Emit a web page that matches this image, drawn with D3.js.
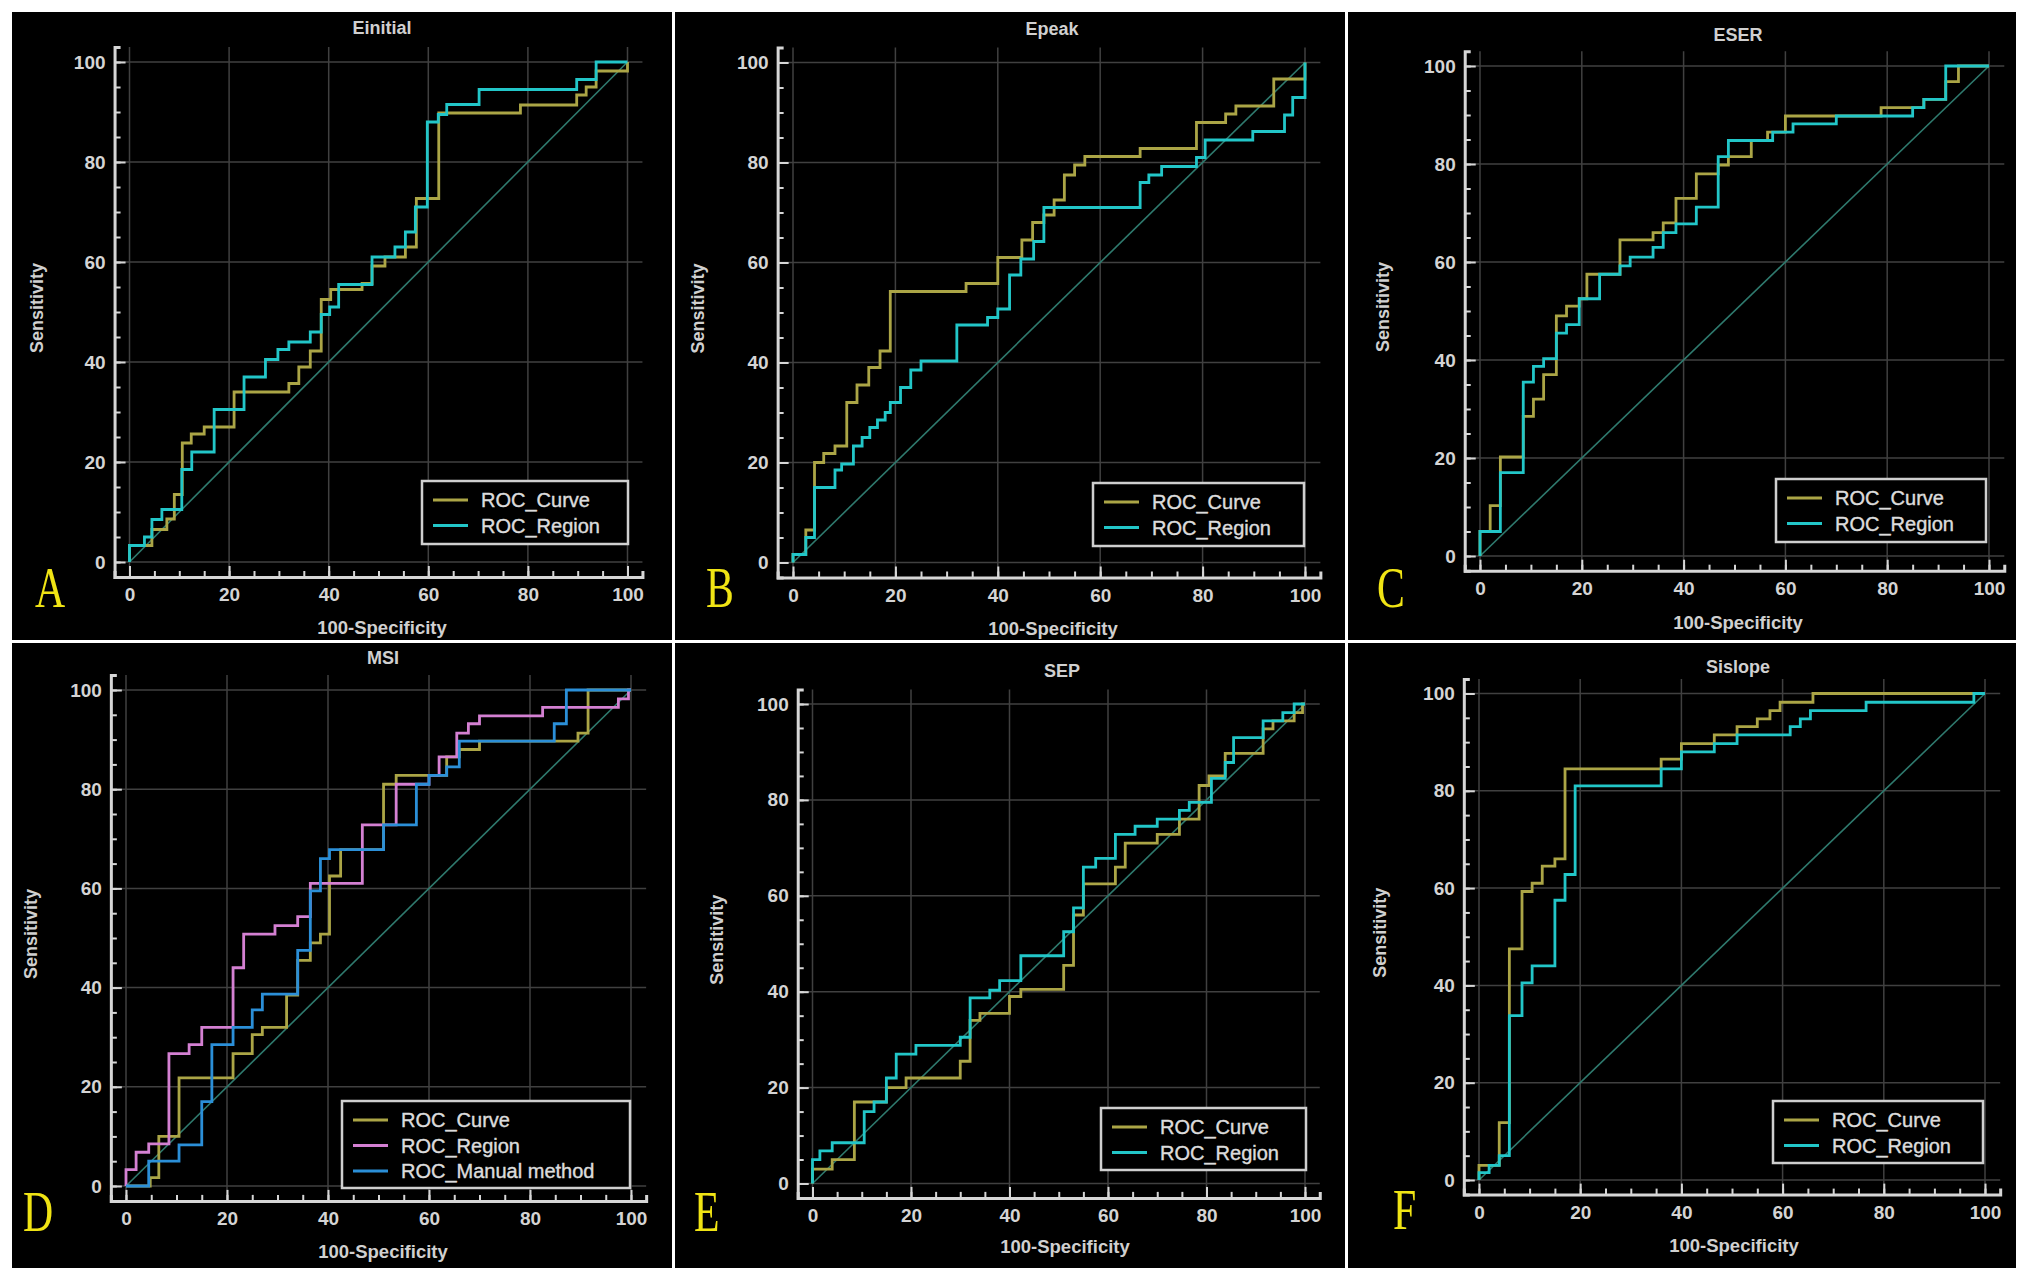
<!DOCTYPE html>
<html><head><meta charset="utf-8">
<script src="https://cdn.jsdelivr.net/npm/d3@7"></script>
<style>body{margin:0;background:#fff;} svg{display:block;}</style>
</head><body>
<svg id="c" width="2032" height="1280"></svg>
<script>
// ---------------- DATA ----------------
const panelTitles = ["Einitial", "Epeak", "ESER", "MSI", "SEP", "Sislope"];
const panelLetters = ["A", "B", "C", "D", "E", "F"];
const xTickLabels = [0, 20, 40, 60, 80, 100];
const yTickLabels = [0, 20, 40, 60, 80, 100];
const minorTicks = [0,5,10,15,20,25,30,35,40,45,50,55,60,65,70,75,80,85,90,95,100];
const xAxisTitle = "100-Specificity";
const yAxisTitle = "Sensitivity";
const seriesNames2 = ["ROC_Curve", "ROC_Region"];
const seriesNames3 = ["ROC_Curve", "ROC_Region", "ROC_Manual method"];

// step vertices [100-Specificity, Sensitivity]
const einitialCurve = [[0,0],[0,3.3],[4.5,6.5],[7.5,8.6],[9,13.5],[10.6,23.8],[12.4,25.6],[15,27],[21,34],[32,35.7],[34,39],[36.3,42.2],[38.5,52.5],[40.4,54.5],[46.7,55.7],[48.7,59.2],[51.3,61],[55.4,63],[57.6,72.7],[62.1,89.8],[78.5,91.4],[89.8,93.4],[91.7,95],[93.7,98.2],[100,100]];
const einitialRegion = [[0,0],[0,3.3],[3,5],[4.5,8.5],[6.5,10.5],[10.5,18.5],[12.5,22],[17,30.5],[23,37],[27.3,40.5],[29.8,42.5],[32,44],[36.3,46],[38.5,49.5],[40.2,51],[42,55.5],[48.7,61],[53.3,63],[55.4,66],[57.4,71],[59.8,88],[62,89.5],[63.7,91.5],[70.2,94.5],[89.8,96.5],[93.7,100],[100,100]];

const epeakCurve = [[0,0],[0,1.6],[2.5,6.5],[4.2,20],[6,21.8],[8.2,23.3],[10.5,32],[12.5,35.5],[14.8,39],[17,42.3],[19,54.2],[33.8,55.8],[40,61],[44.7,64.5],[46.8,68],[49,69.5],[51,72.5],[53,77.5],[55,79.5],[57,81.2],[67.8,82.8],[78.8,88],[84.5,89.7],[86.5,91.3],[93.9,96.7],[100,100]];
const epeakRegion = [[0,0],[0,1.6],[2.5,5],[4.2,15],[8.2,18.5],[9.5,19.7],[11.8,23.3],[13.5,25],[15,27],[16.5,28.5],[18,30],[19,32],[21,35],[23,38.5],[25,40.3],[32,47.5],[38,49],[40,50.7],[42.3,57.5],[44.5,60.7],[47,64.2],[49,71],[67.8,76],[69.5,77.5],[72,79.2],[78.8,81],[80.5,84.5],[89.8,86.2],[96,89.5],[97.6,93],[100,100]];

const eserCurve = [[0,0],[0,5],[2,10.3],[4,20.2],[8.5,28.5],[10.5,32],[12.5,37],[15,49],[17,51],[19.5,52.5],[21,57.5],[27.5,64.5],[34,66],[36,68],[38.5,73],[42.5,78],[46.8,79.8],[48.8,81.5],[53.3,84.8],[56.5,86.5],[60,89.8],[78.8,91.5],[87.2,93.2],[91.5,96.8],[94,100],[100,100]];
const eserRegion = [[0,0],[0,5],[4,17],[8.5,35.5],[10.5,38.7],[12.5,40.3],[15,45.5],[17,47.2],[19.5,52.5],[23.5,57.5],[27.5,59.2],[29.5,61],[34,63],[36,66],[38.5,67.8],[42.5,71.2],[46.8,81.5],[48.8,84.8],[57.5,86.5],[61.5,88.2],[70,89.8],[85,91.5],[87.2,93.2],[91.5,100],[100,100]];

const msiCurve = [[0,0],[4.8,1.7],[6.5,10],[10.5,21.8],[21.2,26.7],[25,30.5],[27,32],[31.8,38.5],[34,45.5],[36.5,49],[38.5,50.8],[40.3,62.5],[42.5,67.8],[51,81],[53.5,82.8],[63.5,86.5],[66,88],[70,89.7],[89.5,91.3],[91.5,100],[100,100]];
const msiRegion = [[0,0],[0,3.3],[2,6.8],[4.5,8.5],[8.5,26.7],[12.5,28.5],[15,32],[21.2,44],[23.3,50.8],[29.5,52.5],[34,54.3],[36.5,61],[46.8,72.8],[53.5,81],[60,82.8],[62,86.5],[65.5,91.3],[67.8,93.2],[70,94.8],[82.5,96.5],[97.5,98.2],[99.5,100],[100,100]];
const msiManual = [[0,0],[4.5,5],[10.5,8.3],[15,17],[17,28.5],[21.2,32],[25,35.5],[27,38.7],[34,47.5],[36.5,59.5],[38.5,66],[40.3,67.8],[51,72.8],[57.5,81],[60,82.8],[63.5,84.5],[66,89.7],[84.8,93.2],[87.2,100],[100,100]];

const sepCurve = [[0,0],[0,3],[4,5],[8.5,17],[15,20],[19,22],[30,25.5],[32,34],[34,35.5],[40,39],[42.3,40.5],[51,45.5],[53,56],[55,62.5],[61.5,66],[63.5,71],[70,72.8],[74.5,76],[78.5,83],[80.5,85],[83.8,89.7],[91.5,94.8],[93.5,96.5],[97.8,98.2],[99.5,100],[100,100]];
const sepRegion = [[0,0],[0,5],[1.5,6.8],[4,8.5],[10.5,15],[12.5,17],[15,22],[17,27],[21,28.8],[30,30.5],[32,38.7],[36,40.3],[38,42.3],[42.3,47.5],[51,52.5],[53,57.5],[55,66],[57.5,67.8],[61.5,72.8],[65.5,74.5],[70,76],[74.5,77.8],[76.5,79.5],[81,84.5],[83.8,87.8],[85.5,93],[91.5,96.5],[95.5,98.2],[97.8,100],[100,100]];

const sislopeCurve = [[0,0],[0,3],[4,11.8],[6,47.5],[8.5,59.3],[10.5,61],[12.5,64.5],[15,66],[17,84.5],[36,86.5],[40,89.7],[46.5,91.5],[51,93.2],[55,94.8],[57.5,96.5],[59.5,98.2],[66,100],[100,100]];
const sislopeRegion = [[0,0],[0,1.5],[2,3],[4,5],[6,33.8],[8.5,40.5],[10.5,44],[15,57.5],[17,62.8],[19,81],[36,84.5],[40,88],[46.5,89.7],[51,91.5],[61.5,93.2],[63.5,94.8],[65.5,96.5],[76.5,98.2],[97.8,100],[100,100]];

const panelSeries = [
  [einitialCurve, einitialRegion],
  [epeakCurve, epeakRegion],
  [eserCurve, eserRegion],
  [msiCurve, msiRegion, msiManual],
  [sepCurve, sepRegion],
  [sislopeCurve, sislopeRegion]
];

// ---------------- STYLE / LAYOUT ----------------
const colCurve = "#aba546", colRegion = "#22c6c8", colPink = "#d480d2", colBlue = "#2b8fd8";
const panelColors = [
  [colCurve, colRegion],[colCurve, colRegion],[colCurve, colRegion],
  [colCurve, colPink, colBlue],[colCurve, colRegion],[colCurve, colRegion]
];
const frames = [[12,12,660,628],[675,12,670,628],[1348,12,668,628],[12,643,660,625],[675,643,670,625],[1348,643,668,625]];
const layout = [
  {x0:129.5,x1:627.5,y0:562,y1:62,  title:[382,34],  sens:37,   xlab:[382,634],  leg:[422,481,628,544],  letter:[35,607]},
  {x0:793,  x1:1305, y0:562.5,y1:62.5,title:[1052,35], sens:698,  xlab:[1053,635], leg:[1093,483,1304,546],letter:[706,607]},
  {x0:1480, x1:1989, y0:556,y1:66,  title:[1738,41], sens:1383, xlab:[1738,629], leg:[1776,479,1986,542],letter:[1377,607]},
  {x0:126,  x1:631,  y0:1186,y1:690,title:[383,664], sens:31,   xlab:[383,1258], leg:[342,1101,630,1188],letter:[23,1231]},
  {x0:812.5,x1:1305, y0:1183.5,y1:704,title:[1062,677],sens:717, xlab:[1065,1253],leg:[1101,1108,1306,1170],letter:[694,1231]},
  {x0:1479, x1:1985, y0:1180,y1:693.5,title:[1738,673],sens:1380,xlab:[1734,1252],leg:[1773,1101,1983,1163],letter:[1393,1229]}
];

const svg = d3.select("#c");
svg.append("rect").attr("width",2032).attr("height",1280).attr("fill","#ffffff");

const font = "'Liberation Sans', Arial, sans-serif";

panelTitles.forEach((title, i) => {
  const L = layout[i];
  const f = frames[i];
  const g = svg.append("g");
  g.append("rect").attr("x",f[0]).attr("y",f[1]).attr("width",f[2]).attr("height",f[3]).attr("fill","#000");

  const x = d3.scaleLinear().domain([0,100]).range([L.x0, L.x1]);
  const y = d3.scaleLinear().domain([0,100]).range([L.y0, L.y1]);
  const xa = x.copy().domain([-3,103]).range([x(-3), x(103)]);
  const ya = y.copy().domain([-3,103]).range([y(-3), y(103)]);

  // grid
  g.append("g").selectAll("line.h").data(yTickLabels).join("line")
    .attr("x1", x(-3)).attr("x2", x(103)).attr("y1", d=>y(d)).attr("y2", d=>y(d))
    .attr("stroke","#404040").attr("stroke-width",1.5);
  g.append("g").selectAll("line.v").data(xTickLabels).join("line")
    .attr("y1", y(-3)).attr("y2", y(103)).attr("x1", d=>x(d)).attr("x2", d=>x(d))
    .attr("stroke","#404040").attr("stroke-width",1.5);

  // diagonal
  g.append("line").attr("x1",x(0)).attr("y1",y(0)).attr("x2",x(100)).attr("y2",y(100))
    .attr("stroke","#2f7a6e").attr("stroke-width",1.6);

  // axes
  const axCol = "#d6d6d6";
  const styleAxis = sel => {
    sel.selectAll("path").attr("stroke",axCol).attr("stroke-width",3);
    sel.selectAll("line").attr("stroke",axCol).attr("stroke-width",2);
    sel.selectAll("text").attr("fill","#d4d4d4").attr("font-family",font)
      .attr("font-weight","bold").attr("font-size",19);
  };
  const xAxisY = y(-3), yAxisX = x(-3);
  g.append("g").attr("transform",`translate(0,${xAxisY})`)
    .call(d3.axisBottom(xa).tickValues(minorTicks).tickSize(-6).tickFormat(""))
    .call(styleAxis);
  g.append("g").attr("transform",`translate(0,${xAxisY})`)
    .call(d3.axisBottom(xa).tickValues(xTickLabels).tickSizeInner(-11).tickSizeOuter(0).tickPadding(11).tickFormat(d3.format("d")))
    .call(styleAxis).call(s=>s.select("path").remove());
  g.append("g").attr("transform",`translate(${yAxisX},0)`)
    .call(d3.axisLeft(ya).tickValues(minorTicks).tickSize(-6).tickFormat(""))
    .call(styleAxis);
  g.append("g").attr("transform",`translate(${yAxisX},0)`)
    .call(d3.axisLeft(ya).tickValues(yTickLabels).tickSizeInner(-11).tickSizeOuter(0).tickPadding(9).tickFormat(d3.format("d")))
    .call(styleAxis).call(s=>s.select("path").remove());

  // curves
  const line = d3.line().x(d=>x(d[0])).y(d=>y(d[1])).curve(d3.curveStepAfter);
  panelSeries[i].forEach((s, k) => {
    g.append("path").datum(s).attr("d", line).attr("fill","none")
      .attr("stroke", panelColors[i][k]).attr("stroke-width",2.8).attr("stroke-linejoin","miter");
  });

  // titles
  g.append("text").attr("x",L.title[0]).attr("y",L.title[1]).attr("text-anchor","middle")
    .attr("font-family",font).attr("font-weight","bold").attr("font-size",18).attr("fill","#d0d0d0").text(title);
  g.append("text").attr("x",L.xlab[0]).attr("y",L.xlab[1]).attr("text-anchor","middle")
    .attr("font-family",font).attr("font-weight","bold").attr("font-size",18.5).attr("fill","#d0d0d0").text(xAxisTitle);
  const sy = (L.y0 + L.y1)/2 - 4;
  g.append("text").attr("transform",`translate(${L.sens},${sy}) rotate(-90)`).attr("text-anchor","middle")
    .attr("dy","0.35em").attr("font-family",font).attr("font-weight","bold").attr("font-size",18).attr("fill","#d0d0d0").text(yAxisTitle);

  // legend
  const names = panelSeries[i].length === 3 ? seriesNames3 : seriesNames2;
  const [lx1, ly1, lx2, ly2] = L.leg;
  g.append("rect").attr("x",lx1).attr("y",ly1).attr("width",lx2-lx1).attr("height",ly2-ly1)
    .attr("fill","#000").attr("stroke","#cfcfcf").attr("stroke-width",2.5);
  names.forEach((n, k) => {
    const ry = ly1 + 19 + k*25.5;
    g.append("line").attr("x1",lx1+11).attr("x2",lx1+46).attr("y1",ry).attr("y2",ry)
      .attr("stroke",panelColors[i][k]).attr("stroke-width",3);
    g.append("text").attr("x",lx1+59).attr("y",ry+7).attr("font-family",font).attr("font-size",20)
      .attr("fill","#dcdcdc").attr("stroke","#dcdcdc").attr("stroke-width",0.4).text(n);
  });

  // panel letter
  g.append("text").attr("transform",`translate(${L.letter[0]},${L.letter[1]}) scale(0.72,1)`)
    .attr("font-family","'Liberation Serif', 'Times New Roman', serif").attr("font-size",58)
    .attr("fill","#f0e414").text(panelLetters[i]);
});
</script>
</body></html>
